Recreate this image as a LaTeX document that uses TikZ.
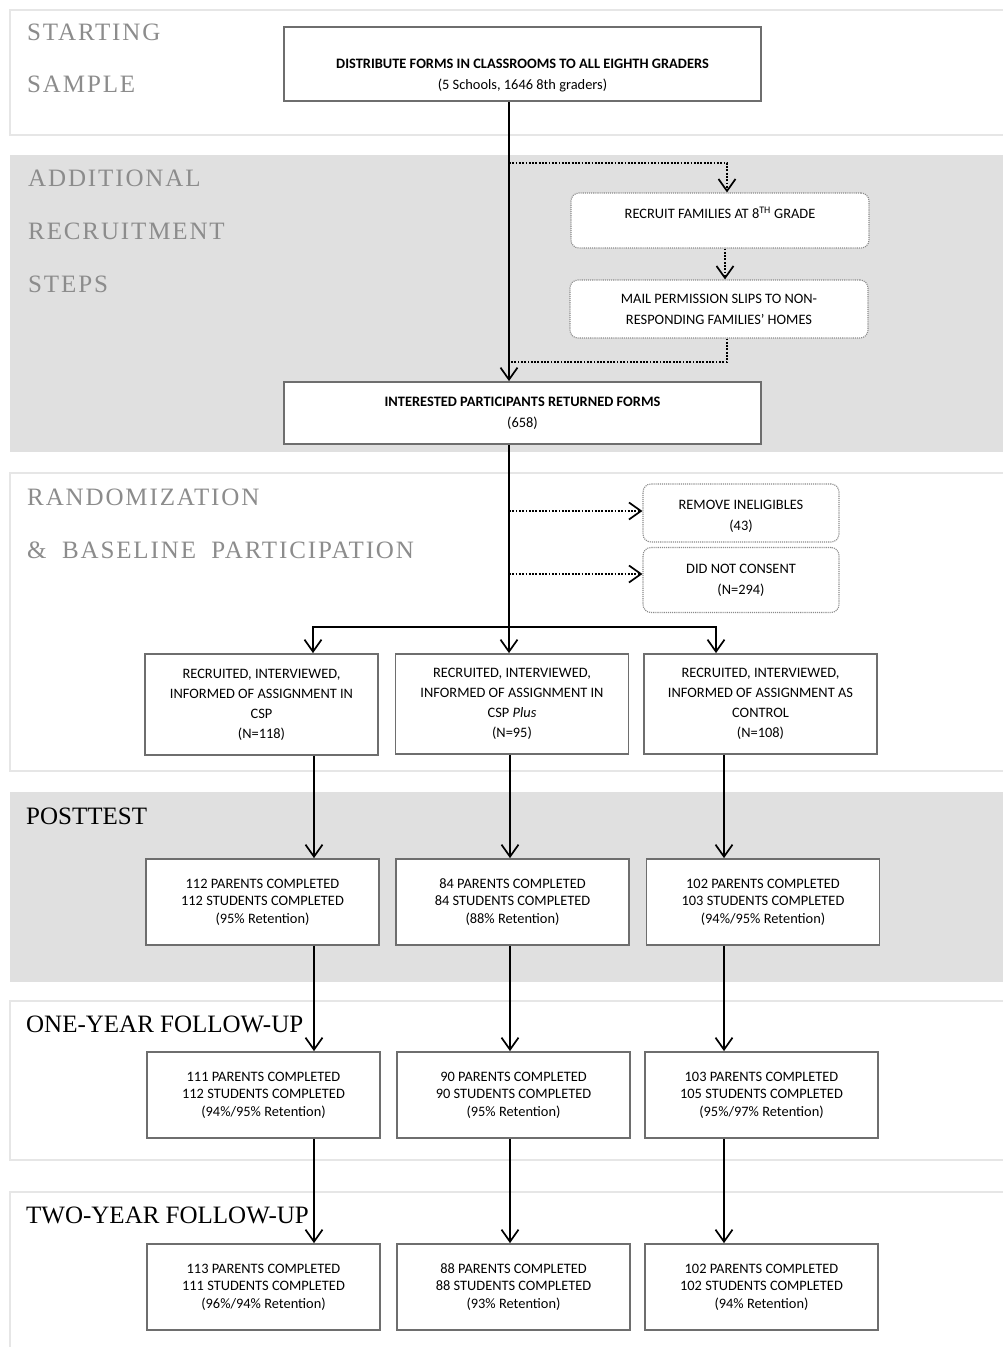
\documentclass[tikz,border=0pt]{standalone}
\usepackage{fontspec}
\setmainfont{Carlito}
\newfontfamily\hdfont{Liberation Serif}
\newfontfamily\hdgfont[LetterSpace=7.5,WordSpace=1.9]{Liberation Serif}
\usetikzlibrary{arrows.meta,calc}
\definecolor{band}{HTML}{E0E0E0}
\definecolor{bandline}{HTML}{E6E6E6}
\definecolor{boxline}{HTML}{6E6E6E}
\definecolor{hdgray}{HTML}{8C8C8C}
\definecolor{dotgray}{HTML}{8A8A8A}
\begin{document}
\begin{tikzpicture}[x=1pt,y=-1pt,
  greyband/.style={fill=band,draw=none},
  whiteband/.style={draw=bandline,line width=2pt,fill=white},
  hdg/.style={anchor=base west,inner sep=0pt,text=hdgray,font=\hdgfont\fontsize{25}{30}\selectfont},
  hdb/.style={anchor=base west,inner sep=0pt,text=black,font=\hdfont\fontsize{25}{30}\selectfont},
  solidbox/.style={draw=boxline,line width=1.8pt,fill=white,align=center,inner sep=0pt,text=black},
  dotbox/.style={draw=dotgray,line width=1.1pt,dash pattern=on 1.1pt off 1pt,rounded corners=8pt,fill=white,align=center,inner sep=0pt,text=black,font=\fontsize{14.4}{21}\selectfont},
  wide/.style={solidbox,font=\fontsize{14.4}{21}\selectfont,minimum width=477pt},
  tall/.style={solidbox,font=\fontsize{14.4}{20}\selectfont,minimum width=233pt,minimum height=100pt},
  res/.style={solidbox,font=\fontsize{14.4}{17.5}\selectfont,minimum width=233pt,minimum height=86pt},
  tip/.style={-{Straight Barb[length=12pt,width=17pt,line width=1.7pt]}},
  arr/.style={line width=2pt,tip},
  dotarr/.style={line width=1.8pt,dash pattern=on 1.8pt off 1.5pt,tip},
  dotln/.style={line width=1.8pt,dash pattern=on 1.8pt off 1.5pt}
]
\useasboundingbox (0,0) rectangle (1003,1347);
% bands
\draw[whiteband] (10,10) rectangle (1012,135);
\fill[greyband] (10,155) rectangle (1003,452);
\draw[whiteband] (10,473) rectangle (1012,771);
\fill[greyband] (10,792) rectangle (1003,982);
\draw[whiteband] (10,1001) rectangle (1012,1160);
\draw[whiteband] (10,1192) rectangle (1012,1360);
% headers
\node[hdg] (h1) at (27,40) {STARTING};
\node[hdg] (h2) at (27,92.5) {SAMPLE};
\node[hdg] (h3) at (28,186.5) {ADDITIONAL};
\node[hdg] (h4) at (28,239.5) {RECRUITMENT};
\node[hdg] (h5) at (28,292.5) {STEPS};
\node[hdg] (h6) at (27,505) {RANDOMIZATION};
\node[hdg] (h7) at (27,558) {\& BASELINE PARTICIPATION};
\node[hdb] (h8) at (26,824.5) {POSTTEST};
\node[hdb] (h9) at (26,1032) {ONE-YEAR FOLLOW-UP};
\node[hdb] (h10) at (26,1223.5) {TWO-YEAR FOLLOW-UP};
% boxes
\node[wide,minimum height=74pt] (start) at (522.5,64) {\rule{0pt}{32pt}\textbf{DISTRIBUTE FORMS IN CLASSROOMS TO ALL EIGHTH GRADERS}\\(5 Schools, 1646 8th graders)};
\node[wide,minimum height=62pt] (ret) at (522.5,413) {\textbf{INTERESTED PARTICIPANTS RETURNED FORMS}\\(658)};
\node[dotbox,minimum width=298pt,minimum height=55pt] (recruit) at (720,220.5) {RECRUIT FAMILIES AT 8\textsuperscript{TH} GRADE\\[-6pt]\mbox{}};
\node[dotbox,minimum width=298pt,minimum height=58pt] (mail) at (719,309) {MAIL PERMISSION SLIPS TO NON-\\RESPONDING FAMILIES' HOMES};
\node[dotbox,minimum width=196pt,minimum height=58pt] (remove) at (741,513) {\rule{0pt}{16pt}REMOVE INELIGIBLES\\(43)};
\node[dotbox,minimum width=196pt,minimum height=65pt] (consent) at (741,580) {DID NOT CONSENT\\(N=294)};
\node[tall,minimum height=101pt] (rA) at (261.5,704.5) {RECRUITED, INTERVIEWED,\\INFORMED OF ASSIGNMENT IN\\CSP\\(N=118)};
\node[tall] (rB) at (512,704) {RECRUITED, INTERVIEWED,\\INFORMED OF ASSIGNMENT IN\\CSP \textit{Plus}\\(N=95)};
\node[tall] (rC) at (760.5,704) {RECRUITED, INTERVIEWED,\\INFORMED OF ASSIGNMENT AS\\CONTROL\\(N=108)};
\node[res] (pA) at (262.5,902) {112 PARENTS COMPLETED\\112 STUDENTS COMPLETED\\(95\% Retention)};
\node[res] (pB) at (512.5,902) {84 PARENTS COMPLETED\\84 STUDENTS COMPLETED\\(88\% Retention)};
\node[res] (pC) at (763,902) {102 PARENTS COMPLETED\\103 STUDENTS COMPLETED\\(94\%/95\% Retention)};
\node[res] (oA) at (263.5,1095) {111 PARENTS COMPLETED\\112 STUDENTS COMPLETED\\(94\%/95\% Retention)};
\node[res] (oB) at (513.5,1095) {90 PARENTS COMPLETED\\90 STUDENTS COMPLETED\\(95\% Retention)};
\node[res] (oC) at (761.5,1095) {103 PARENTS COMPLETED\\105 STUDENTS COMPLETED\\(95\%/97\% Retention)};
\node[res] (tA) at (263.5,1287) {113 PARENTS COMPLETED\\111 STUDENTS COMPLETED\\(96\%/94\% Retention)};
\node[res] (tB) at (513.5,1287) {88 PARENTS COMPLETED\\88 STUDENTS COMPLETED\\(93\% Retention)};
\node[res] (tC) at (761.5,1287) {102 PARENTS COMPLETED\\102 STUDENTS COMPLETED\\(94\% Retention)};
% junctions
\coordinate (trunk) at (509,0);
\coordinate (j1) at (509,163);
\coordinate (c1) at (727,163);
\coordinate (c2) at (725,0);
\coordinate (j2) at (509,362);
\coordinate (j3) at (509,511);
\coordinate (j4) at (509,574);
\coordinate (split) at (509,627);
\coordinate (colA) at (314,0);
\coordinate (colB) at (510,0);
\coordinate (colC) at (724,0);
\coordinate (sA) at (313,0);
\coordinate (sC) at (716,0);
% connectors
\draw[arr] (start.south -| trunk) -- (ret.north -| trunk);
\draw[dotarr] (j1) -- (c1) -- (c1 |- recruit.north);
\draw[dotarr] (recruit.south -| c2) -- (mail.north -| c2);
\draw[dotln] (mail.south -| c1) |- (j2);
\draw[line width=2pt] (ret.south -| trunk) -- (split);
\draw[arr] (split) -- (rB.north -| trunk);
\draw[arr] (split) -| (sA |- rA.north);
\draw[arr] (split) -| (sC |- rC.north);
\draw[dotarr] (j3) -- (remove.west |- j3);
\draw[dotarr] (j4) -- (consent.west |- j4);
\draw[arr] (rA.south -| colA) -- (pA.north -| colA);
\draw[arr] (rB.south -| colB) -- (pB.north -| colB);
\draw[arr] (rC.south -| colC) -- (pC.north -| colC);
\draw[arr] (pA.south -| colA) -- (oA.north -| colA);
\draw[arr] (pB.south -| colB) -- (oB.north -| colB);
\draw[arr] (pC.south -| colC) -- (oC.north -| colC);
\draw[arr] (oA.south -| colA) -- (tA.north -| colA);
\draw[arr] (oB.south -| colB) -- (tB.north -| colB);
\draw[arr] (oC.south -| colC) -- (tC.north -| colC);
\end{tikzpicture}
\end{document}
